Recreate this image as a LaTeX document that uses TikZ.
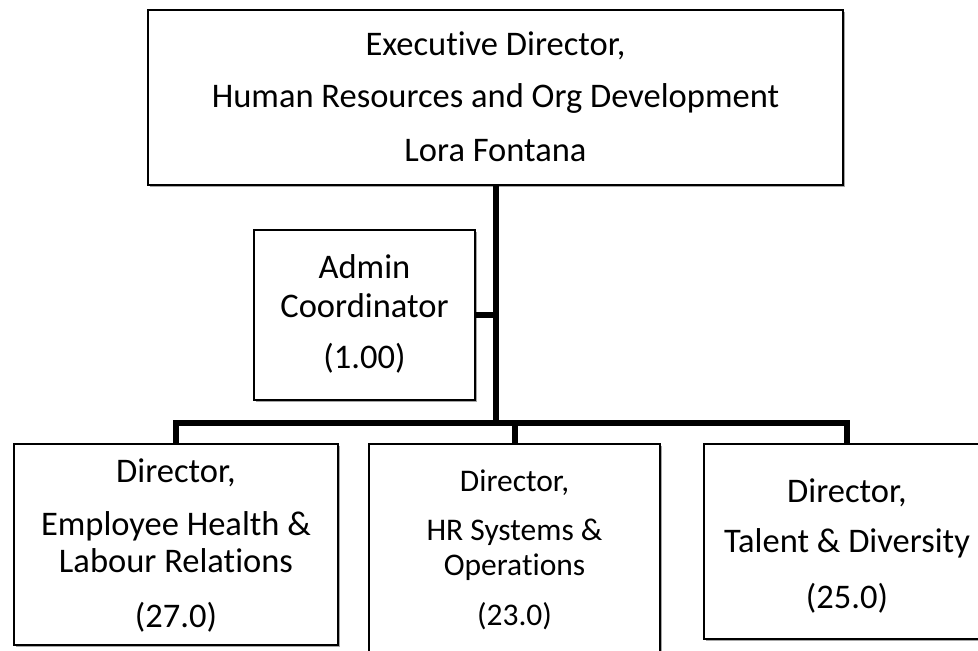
\documentclass[tikz,border=0pt]{standalone}
\usepackage{fontspec}
\setmainfont[Ligatures={NoCommon}]{Carlito}
\usetikzlibrary{shadows}
\tikzset{
  orgbox/.style={draw=black, line width=1.8pt, fill=white, rectangle, inner sep=0pt, outer sep=0pt,
    drop shadow={shadow xshift=2pt, shadow yshift=-2pt, opacity=0.35, fill=black}},
  lbl/.style={anchor=base, inner sep=0pt, font=\fontsize{34.5}{38}\selectfont},
  lblsm/.style={anchor=base, inner sep=0pt, font=\fontsize{31.5}{35}\selectfont},
  conn/.style={draw=black, line width=6pt, line join=miter, line cap=butt}
}
\begin{document}
\begin{tikzpicture}[x=1pt,y=-1pt]
\useasboundingbox (0,0) rectangle (978,651);
\clip (0,0) rectangle (978,651);
\fill[white] (0,0) rectangle (978,651);

% boxes
\node[orgbox, minimum width=695pt, minimum height=175pt] (top) at (495.5,97.5) {};
\node[orgbox, minimum width=221pt, minimum height=170pt] (admin) at (364.5,315) {};
\node[orgbox, minimum width=324pt, minimum height=201pt] (left) at (176,544.5) {};
\node[orgbox, minimum width=291pt, minimum height=230pt] (mid) at (514.5,559) {};
\node[orgbox, minimum width=286pt, minimum height=195pt] (right) at (847,541.5) {};

% connectors
\coordinate (j) at (495.5,423);
\draw[conn] (top.south) -- (j);
\draw[conn] (admin.east) -- (admin.east -| top.south);
\draw[conn] (left.north) |- (j);
\draw[conn] (mid.north) |- (j);
\draw[conn] (right.north) |- (j);

% texts
\node[lbl] (t1) at (495.5,55) {Executive Director,};
\node[lbl] (t2) at (495.5,107) {Human Resources and Org Development};
\node[lbl] (t3) at (495.5,161) {Lora Fontana};

\node[lbl] (a1) at (364.5,278) {Admin};
\node[lbl] (a2) at (364.5,317) {Coordinator};
\node[lbl] (a3) at (364.5,368) {(1.00)};

\node[lbl] (l1) at (176,482) {Director,};
\node[lbl] (l2) at (176,535) {Employee Health \&};
\node[lbl] (l3) at (176,572) {Labour Relations};
\node[lbl] (l4) at (176,627) {(27.0)};

\node[lblsm] (m1) at (514.5,491) {Director,};
\node[lblsm] (m2) at (514.5,540) {HR Systems \&};
\node[lblsm] (m3) at (514.5,575) {Operations};
\node[lblsm] (m4) at (514.5,625) {(23.0)};

\node[lbl] (r1) at (847,502) {Director,};
\node[lbl] (r2) at (847,552) {Talent \& Diversity};
\node[lbl] (r3) at (847,608) {(25.0)};
\end{tikzpicture}
\end{document}
